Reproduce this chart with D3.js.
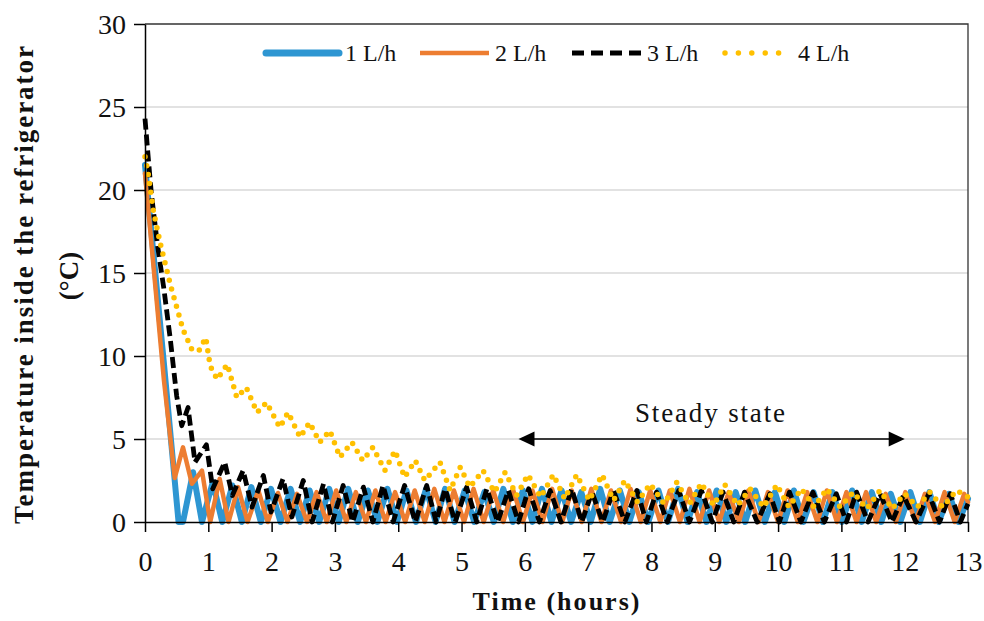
<!DOCTYPE html>
<html><head><meta charset="utf-8">
<script src="https://cdn.jsdelivr.net/npm/d3@7"></script>
<style>
html,body{margin:0;padding:0;background:#fff;}
svg{display:block;font-family:"Liberation Serif","Times New Roman",serif;}
</style></head>
<body><svg id="chart" width="984" height="621"></svg>
<script>
// ---- data ----
const xTicks = [0,1,2,3,4,5,6,7,8,9,10,11,12,13];
const yTicks = [0,5,10,15,20,25,30];
const seriesNames = ["1 L/h","2 L/h","3 L/h","4 L/h"];
const steadyStart = 5.9, steadyEnd = 12.0, steadyLevel = 5;

// [time (h), temperature (°C)]
const flow1 = [[0,21.5],[0.3,9.5],[0.53,0],[0.6,0],
[0.76,3.0],[0.9,0],[1.07,2.4],[1.22,0],[1.38,2.2],[1.53,0],[1.68,2.1],[1.83,0],[1.99,2.0],[2.14,0],
[2.30,2.0],[2.45,0],[2.60,1.9],[2.75,0],[2.91,2.0],[3.06,0],[3.21,2.0],[3.36,0],[3.52,1.9],[3.67,0],
[3.83,2.0],[3.98,0],[4.13,1.9],[4.28,0],[4.44,2.0],[4.59,0],[4.74,2.0],[4.89,0],[5.05,1.9],[5.2,0],
[5.36,1.8],[5.51,0],[5.66,2.0],[5.81,0],[5.97,1.9],[6.12,0],[6.27,2.0],[6.42,0],[6.58,1.9],[6.73,0],
[6.89,1.8],[7.04,0],[7.19,2.0],[7.34,0],[7.50,1.9],[7.65,0],[7.80,1.8],[7.95,0],[8.11,1.9],[8.26,0],
[8.42,2.0],[8.57,0],[8.72,1.8],[8.87,0],[9.03,1.9],[9.18,0],[9.33,1.8],[9.48,0],[9.64,1.9],[9.79,0],
[9.95,1.8],[10.10,0],[10.25,1.9],[10.40,0],[10.56,1.8],[10.71,0],[10.86,1.8],[11.01,0],[11.17,1.9],[11.32,0],
[11.48,1.8],[11.63,0],[11.78,1.7],[11.93,0],[12.09,1.8],[12.24,0],[12.39,1.8],[12.54,0],[12.70,1.7],[12.85,0],[13.0,1.4]];

const flow2 = [[0,21],[0.3,8.5],[0.47,2.65],[0.6,4.5],[0.74,2.3],[0.9,3.1],[1.03,0],[1.18,2.6],[1.32,0],
[1.47,2.1],[1.62,0],[1.79,1.9],[1.94,0],[2.1,1.75],[2.25,0],[2.4,1.7],[2.56,0],[2.71,1.8],[2.87,0],
[3.02,1.9],[3.18,0],[3.33,1.8],[3.49,0],[3.64,1.9],[3.8,0],[3.95,1.8],[4.11,0],[4.26,1.9],[4.42,0],
[4.57,2.0],[4.73,0],[4.88,1.9],[5.04,0],[5.19,2.0],[5.35,0],[5.5,1.9],[5.66,0],[5.81,2.0],[5.97,0],
[6.12,1.9],[6.28,0],[6.43,2.0],[6.59,0],[6.74,1.9],[6.9,0],[7.05,2.0],[7.21,0],[7.36,1.9],[7.52,0],
[7.67,2.0],[7.83,0],[7.98,1.9],[8.14,0],[8.29,1.9],[8.45,0],[8.6,2.0],[8.76,0],[8.91,1.9],[9.07,0],
[9.22,1.8],[9.38,0],[9.53,1.9],[9.69,0],[9.84,1.8],[10.0,0],[10.15,1.9],[10.31,0],[10.46,1.8],[10.62,0],
[10.77,1.9],[10.93,0],[11.08,1.8],[11.24,0],[11.39,1.8],[11.55,0],[11.7,1.7],[11.86,0],[12.01,1.8],[12.17,0],
[12.32,1.7],[12.48,0],[12.63,1.8],[12.79,0],[12.94,1.7],[13,1.2]];

const flow3 = [[0,24.3],[0.05,22],[0.1,19.8],[0.2,16.6],[0.3,14],[0.4,11],[0.5,7.6],[0.58,5.8],[0.68,6.9],
[0.79,3.6],[0.97,4.65],[1.07,2.0],[1.26,3.6],[1.38,1.6],[1.55,3.1],[1.69,0.9],[1.87,2.8],[1.99,0.6],
[2.18,2.6],[2.32,0.3],[2.5,2.5],[2.64,0],[2.82,2.3],[2.96,0],[3.13,2.2],[3.28,0],[3.45,2.1],[3.6,0],
[3.76,2.2],[3.92,0],[4.1,2.2],[4.27,0],[4.45,2.2],[4.6,0],[4.74,2.0],[4.9,0],[5.08,2.1],[5.24,0],
[5.40,2.0],[5.57,0],[5.74,1.9],[5.9,0],[6.06,2.0],[6.23,0],[6.40,1.9],[6.57,0],[6.74,2.0],[6.9,0],
[7.06,1.8],[7.23,0],[7.40,1.9],[7.58,0],[7.77,1.9],[7.92,0],[8.08,1.8],[8.25,0],[8.43,1.9],[8.6,0],
[8.79,1.9],[8.96,0],[9.13,1.8],[9.3,0],[9.47,1.8],[9.67,0],[9.87,1.7],[10.02,0],[10.18,1.8],[10.36,0],
[10.55,1.8],[10.73,0],[10.92,1.7],[11.08,0],[11.24,1.8],[11.42,0],[11.61,1.7],[11.8,0],[11.98,1.6],[12.18,0],
[12.38,1.7],[12.55,0],[12.72,1.7],[12.88,0],[13,1.1]];

const flow4 = [[0,22],[0.05,21],[0.13,18.8],[0.24,16.8],[0.4,14.3],[0.6,11.6],[0.74,10.4],[0.85,10.3],
[0.96,11.1],[1.03,9.4],[1.14,8.6],[1.3,9.5],[1.45,7.5],[1.6,8.1],[1.77,6.6],[1.92,7.2],[2.13,5.7],
[2.26,6.6],[2.45,5.1],[2.6,6.0],[2.76,4.8],[2.92,5.5],[3.08,3.9],[3.27,4.8],[3.44,3.7],[3.6,4.5],
[3.79,3.1],[3.95,4.3],[4.1,2.7],[4.27,3.7],[4.42,2.5],[4.66,3.6],[4.82,1.9],[4.98,3.3],[5.13,2.1],
[5.34,3.1],[5.52,1.8],[5.69,3.0],[5.87,1.6],[6.05,2.85],[6.25,1.5],[6.45,2.85],[6.63,1.4],[6.82,2.85],
[7.02,1.3],[7.22,2.85],[7.4,1.3],[7.58,2.5],[7.78,1.2],[7.98,2.3],[8.2,1.1],[8.4,2.4],[8.6,1.1],
[8.79,2.35],[8.98,1.0],[9.16,2.25],[9.36,1.0],[9.56,2.0],[9.77,0.9],[9.98,2.25],[10.17,0.9],[10.37,2.0],
[10.57,0.9],[10.77,2.0],[10.98,0.9],[11.19,1.8],[11.4,0.8],[11.61,1.9],[11.8,0.8],[12.0,1.7],[12.2,0.9],
[12.4,1.8],[12.6,0.9],[12.82,1.9],[13.0,1.5]];

// ---- drawing ----
const svg = d3.select("#chart");
const x = d3.scaleLinear().domain([0,13]).range([145,968]);
const y = d3.scaleLinear().domain([0,30]).range([522,24]);

// gridlines
svg.append("g").selectAll("line").data(yTicks.filter(d=>d>0 && d<30)).join("line")
  .attr("x1",x(0)).attr("x2",x(13)).attr("y1",d=>y(d)).attr("y2",d=>y(d))
  .attr("stroke","#d9d9d9").attr("stroke-width",1.3);

// frame top/right
svg.append("path").attr("d",`M${x(0)},${y(30)}H${x(13)}V${y(0)}`)
  .attr("fill","none").attr("stroke","#333").attr("stroke-width",1.3);

// series
const line = d3.line().x(d=>x(d[0])).y(d=>y(d[1]));
const styles = [
  {data:flow1, color:"#2E96D2", w:6, dash:null, cap:"round"},
  {data:flow2, color:"#ED7D31", w:4.5, dash:null, cap:"round"},
  {data:flow3, color:"#000000", w:4.8, dash:"11,5", cap:"butt"},
  {data:flow4, color:"#FFC000", w:5.5, dash:"0,9", cap:"round"}
];
const gS = svg.append("g");
styles.forEach(s=>{
  gS.append("path").attr("d",line(s.data)).attr("fill","none")
    .attr("stroke",s.color).attr("stroke-width",s.w)
    .attr("stroke-linejoin","round").attr("stroke-linecap",s.cap)
    .attr("stroke-dasharray",s.dash);
});

// axes
const axL = svg.append("g").attr("transform",`translate(${x(0)},0)`)
  .call(d3.axisLeft(y).tickValues(yTicks).tickSize(11).tickSizeOuter(0).tickPadding(8));
axL.select(".domain").attr("stroke","#000").attr("stroke-width",1.5);
axL.selectAll(".tick line").attr("stroke","#000").attr("stroke-width",1.5);
axL.selectAll("text").attr("font-size",28).attr("fill","#111")
  .attr("font-family","Liberation Serif").attr("dy","0.34em");

const axB = svg.append("g").attr("transform",`translate(0,${y(0)})`)
  .call(d3.axisBottom(x).tickValues(xTicks).tickSize(10).tickSizeOuter(0).tickPadding(10));
axB.select(".domain").attr("stroke","#000").attr("stroke-width",1.5);
axB.selectAll(".tick line").attr("stroke","#000").attr("stroke-width",1.5);
axB.selectAll("text").attr("font-size",28).attr("fill","#111")
  .attr("font-family","Liberation Serif").attr("y",49).attr("dy",0);

// axis titles
svg.append("text").attr("x",556).attr("y",610).attr("text-anchor","middle")
  .attr("font-weight","bold").attr("font-size",26).attr("fill","#111")
  .attr("textLength",167).attr("lengthAdjust","spacing").text("Time (hours)");
svg.append("text").attr("transform","translate(33,285) rotate(-90)").attr("text-anchor","middle")
  .attr("font-weight","bold").attr("font-size",27).attr("fill","#111")
  .attr("textLength",478).attr("lengthAdjust","spacing").text("Temperature inside the refrigerator");
svg.append("text").attr("transform","translate(78,276) rotate(-90)").attr("text-anchor","middle")
  .attr("font-weight","bold").attr("font-size",27).attr("fill","#111").text("(°C)");

// legend
const legX = [266,420,572,725];
const legLen = [73,69,69,67];
const legStyle = [
  {color:"#2E96D2", w:7, dash:null, cap:"round"},
  {color:"#ED7D31", w:4.5, dash:null, cap:"butt"},
  {color:"#000", w:4.8, dash:"12,7", cap:"butt"},
  {color:"#FFC000", w:5.5, dash:"0,13.4", cap:"round"}
];
seriesNames.forEach((n,i)=>{
  const s = legStyle[i];
  svg.append("line").attr("x1",legX[i]).attr("x2",legX[i]+legLen[i]).attr("y1",53).attr("y2",53)
    .attr("stroke",s.color).attr("stroke-width",s.w).attr("stroke-linecap",s.cap)
    .attr("stroke-dasharray",s.dash);
  svg.append("text").attr("x",legX[i]+legLen[i]+6).attr("y",61).attr("font-size",24)
    .attr("fill","#111").text(n);
});

// steady state annotation
const ay = y(steadyLevel), ax1 = x(steadyStart), ax2 = x(steadyEnd);
svg.append("line").attr("x1",ax1+10).attr("x2",ax2-10).attr("y1",ay).attr("y2",ay)
  .attr("stroke","#000").attr("stroke-width",1.6);
svg.append("path").attr("d",`M${ax1},${ay}L${ax1+16},${ay-7.5}L${ax1+16},${ay+7.5}Z`).attr("fill","#000");
svg.append("path").attr("d",`M${ax2},${ay}L${ax2-16},${ay-7.5}L${ax2-16},${ay+7.5}Z`).attr("fill","#000");
svg.append("text").attr("x",710).attr("y",422).attr("text-anchor","middle").attr("font-size",27)
  .attr("fill","#111").attr("textLength",150).attr("lengthAdjust","spacing").text("Steady state");
</script></body></html>
